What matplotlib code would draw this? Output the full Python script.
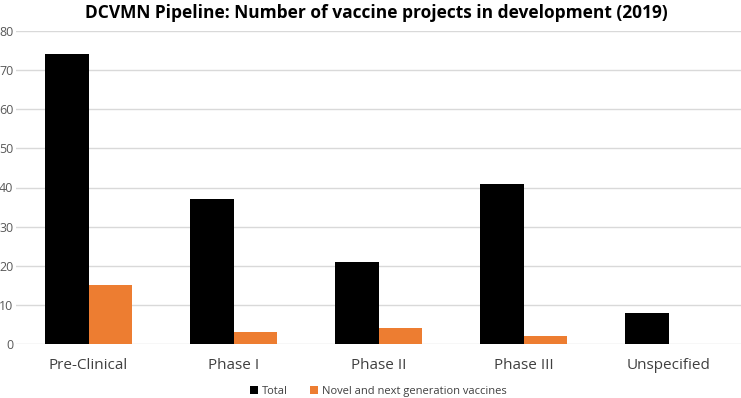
import matplotlib.pyplot as plt
import numpy as np

categories = ["Pre-Clinical", "Phase I", "Phase II", "Phase III", "Unspecified"]
total = [74, 37, 21, 41, 8]
novel = [15, 3, 4, 2, 0]
series_names = ["Total", "Novel and next generation vaccines"]

plt.rcParams['font.family'] = ['Open Sans', 'DejaVu Sans']

fig = plt.figure(figsize=(7.41, 3.98), dpi=100)
ax = fig.add_axes([16 / 741, 1 - 344 / 398, 725 / 741, (344 - 31) / 398])

x = np.arange(len(categories))
w = 0.3
ax.bar(x - w / 2, total, w, color="black", label=series_names[0], zorder=3)
ax.bar(x + w / 2, novel, w, color="#ED7D31", label=series_names[1], zorder=3)

ax.set_xlim(-0.5, len(categories) - 0.5)
ax.set_ylim(0, 80)
ax.set_yticks(range(0, 81, 10))
ax.yaxis.grid(True, color="#D9D9D9", linewidth=1, zorder=0)
for s in ax.spines.values():
    s.set_visible(False)
ax.tick_params(axis="both", length=0)
ax.tick_params(axis="y", labelsize=9, labelcolor="#595959", pad=2)
ax.tick_params(axis="x", labelsize=11, labelcolor="#404040", pad=10)
ax.set_xticks(x)
ax.set_xticklabels(categories)

fig.suptitle("DCVMN Pipeline: Number of vaccine projects in development (2019)",
             x=0.508, y=0.99, fontsize=12.5, fontweight="bold", va="top")

ax.legend(loc="lower center", bbox_to_anchor=(0.5, -0.2), ncol=2, frameon=False,
          fontsize=8, handlelength=0.7, handleheight=0.7, columnspacing=2.0,
          handletextpad=0.4, labelcolor="#404040")

fig.savefig("out.png", dpi=100)
